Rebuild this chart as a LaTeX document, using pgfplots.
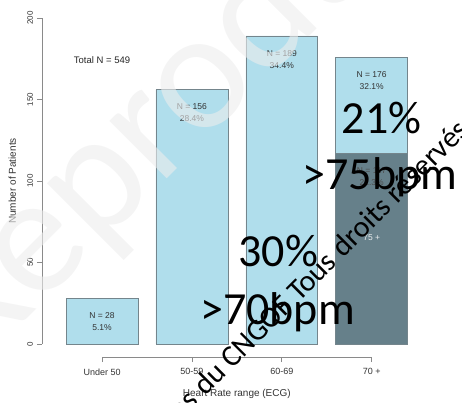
\documentclass[border=0pt]{standalone}
\usepackage{pgfplots}
\pgfplotsset{compat=1.18}
\usepackage{fontspec}
\setmainfont{Liberation Sans}
\newfontfamily\calibri{Carlito}

\definecolor{barblue}{HTML}{B0DEEC}
\definecolor{darkseg}{HTML}{66808A}
\definecolor{bordergray}{HTML}{74858C}
\definecolor{axisgray}{HTML}{8A8A8A}
\definecolor{labelgray}{HTML}{333333}

\begin{document}
\begin{tikzpicture}
\useasboundingbox (-42pt,-46pt) rectangle (420pt,357pt);
\clip (-42pt,-46pt) rectangle (420pt,357pt);
\begin{axis}[
  scale only axis,
  width=380pt, height=352pt,
  xmin=-0.668, xmax=3.56,
  ymin=-8, ymax=208,
  axis line style={draw=none},
  xtick={0,1,2,3},
  xticklabels={Under 50, 50-59, 60-69, 70 +},
  ytick={0,50,100,150,200},
  xtick pos=bottom, ytick pos=left,
  tick align=outside,
  major tick length=5pt,
  tick style={axisgray, line width=0.6pt},
  /pgf/number format/assume math mode=true,
  xticklabel style={font=\fontsize{9}{9}\selectfont, text=labelgray, yshift=-3pt},
  yticklabel style={font=\fontsize{8}{8}\selectfont, text=labelgray,
                    xshift=-4pt, rotate=90, anchor=base, inner sep=0pt},
  xlabel={Heart Rate range (ECG)},
  ylabel={Number of Patients},
  every axis x label/.style={at={(axis cs:1.5,-8)}, anchor=base,
                             yshift=-39pt, font=\fontsize{10}{10}\selectfont, text=labelgray},
  every axis y label/.style={at={(axis cs:-0.668,100)}, anchor=base,
                             xshift=-26pt, rotate=90, font=\fontsize{10}{10}\selectfont, text=labelgray},
  clip=false,
]
% axis lines spanning only the tick range
\draw[axisgray, line width=0.6pt] (axis cs:-0.668,0) -- (axis cs:-0.668,200);
\draw[axisgray, line width=0.6pt] (axis cs:0,-8) -- (axis cs:3,-8);

% patients per heart-rate class
\addplot[ybar, bar width=0.8, bar shift=0pt, fill=barblue, draw=bordergray, line width=0.6pt]
  coordinates {(0,28) (1,156) (2,189) (3,176)};
% 75+ subgroup of the 70+ class
\addplot[ybar, bar width=0.8, bar shift=0pt, fill=darkseg, draw=bordergray, line width=0.6pt]
  coordinates {(3,117)};

\begin{scope}[every node/.style={align=center, anchor=north, inner sep=0pt,
      font=\fontsize{8.5}{12}\selectfont, text=labelgray}]
  \node at (axis cs:0,28)  [yshift=-14pt] {N = 28\\5.1\%};
  \node at (axis cs:1,156) [yshift=-14pt] {N = 156\\28.4\%};
  \node at (axis cs:2,189) [yshift=-14pt] {N = 189\\34.4\%};
  \node at (axis cs:3,176) [yshift=-14pt] {N = 176\\32.1\%};
  \node at (axis cs:3,117) [yshift=-14pt, text=black!70] {N = 117\\21.3\%};
\end{scope}
\node[font=\fontsize{8.5}{10}\selectfont, text=white!85!darkseg] at (axis cs:3,65) {75 +};
\node[font=\fontsize{9.5}{10}\selectfont, text=black!85] at (axis cs:0,174) {Total N = 549};

% highlighted proportions
\begin{scope}[every node/.style={inner sep=0pt, font=\calibri\fontsize{46}{46}\selectfont}]
  \node[anchor=base] at (axis cs:3.11,129) {21\%};
  \node[anchor=base west] at (axis cs:2.23,94.5) {>75bpm};
  \node[anchor=base] at (axis cs:1.96,47.5) {30\%};
  \node[anchor=base west] at (axis cs:1.09,12) {>70bpm};
\end{scope}
\end{axis}

% copyright marks
\node[rotate=45, anchor=base west, inner sep=0pt, text=white!93!black, opacity=0.6,
      font=\calibri\fontsize{170}{170}\selectfont] at (-69pt,-16pt) {Reproduction};
\node[rotate=45, anchor=base east, inner sep=0pt,
      font=\calibri\fontsize{30}{30}\selectfont] at (158pt,-45pt) {Recommandations};
\node[rotate=45, anchor=base west, inner sep=0pt,
      font=\calibri\fontsize{30}{30}\selectfont] at (163pt,-40pt) {du CNGOF Tous droits réservés};
\end{tikzpicture}
\end{document}
